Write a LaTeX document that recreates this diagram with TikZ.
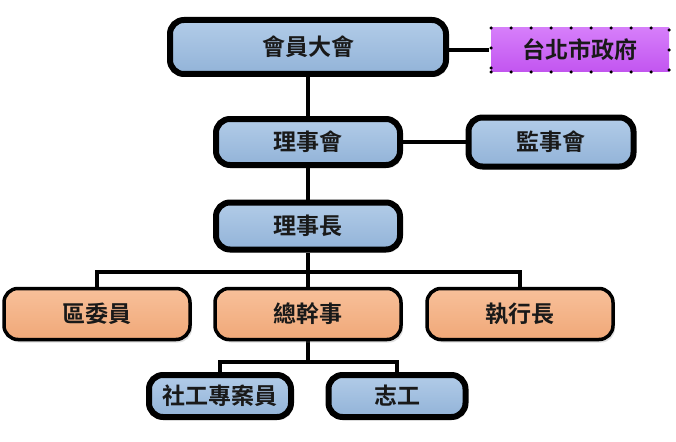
\documentclass[tikz,border=0pt]{standalone}
\usepackage{fontspec}
\newfontfamily\cjk{Noto Sans CJK TC}[BoldFont={Noto Sans CJK TC Bold}]
\usetikzlibrary{shadows,backgrounds}
\definecolor{bluetop}{HTML}{B2CCE8}
\definecolor{bluebot}{HTML}{92B3D8}
\definecolor{orgtop}{HTML}{F8C09A}
\definecolor{orgbot}{HTML}{F0A878}
\definecolor{purtop}{HTML}{D67EFA}
\definecolor{purbot}{HTML}{C255F0}
\tikzset{
  box/.style={rounded corners=14pt, font=\cjk\bfseries\fontsize{23}{26}\selectfont, text=black!90,
    drop shadow={opacity=0.25, shadow xshift=2pt, shadow yshift=-3pt}},
  bluebox/.style={box, draw=black, line width=6pt, top color=bluetop, bottom color=bluebot},
  orgbox/.style={box, draw=black, line width=3.5pt, top color=orgtop, bottom color=orgbot},
  purbox/.style={font=\cjk\bfseries\fontsize{23}{26}\selectfont, text=black!90, top color=purtop, bottom color=purbot,
    draw=black, line width=3.5pt, line cap=round, dash pattern=on 0pt off 20pt},
  conn/.style={draw=black, line width=3.5pt}
}
\begin{document}
\begin{tikzpicture}[x=1pt,y=-1pt]
\useasboundingbox (0,0) rectangle (676,441);
\node[bluebox, minimum width=276pt, minimum height=54pt] (hy) at (308,47) {會員大會};
\node[purbox, minimum width=178pt, minimum height=44pt] (gov) at (580,50) {台北市政府};
\node[bluebox, minimum width=184pt, minimum height=46pt] (lsh) at (308,142) {理事會};
\node[bluebox, minimum width=165pt, minimum height=49pt] (jsh) at (551,142) {監事會};
\node[bluebox, minimum width=184pt, minimum height=47pt] (lsz) at (308,226) {理事長};
\node[orgbox, minimum width=186pt, minimum height=51pt] (qw) at (97,314) {區委員};
\node[orgbox, minimum width=186pt, minimum height=51pt] (zgs) at (308,314) {總幹事};
\node[orgbox, minimum width=186pt, minimum height=51pt] (zx) at (520,314) {執行長};
\node[bluebox, minimum width=142pt, minimum height=42pt] (sg) at (220,396) {社工專案員};
\node[bluebox, minimum width=137pt, minimum height=42pt] (zg) at (397,396) {志工};
\coordinate (bus1) at (308,272);
\coordinate (bus2) at (308,362);
\begin{scope}[on background layer]
\draw[conn] (hy) -- (lsh);
\draw[conn] (gov.west -| hy.east) -- (gov.west);
\draw[conn] (lsh) -- (jsh);
\draw[conn] (lsh) -- (lsz);
\draw[conn] (lsz) -- (bus1);
\draw[conn] (qw.north) |- (bus1) -| (zx.north);
\draw[conn] (bus1) -- (zgs.north);
\draw[conn] (zgs.south) -- (bus2);
\draw[conn] (sg.north) |- (bus2) -| (zg.north);
\end{scope}
\end{tikzpicture}
\end{document}
